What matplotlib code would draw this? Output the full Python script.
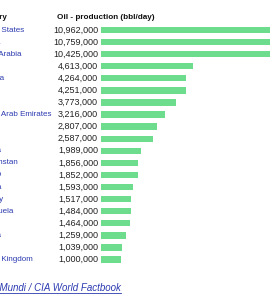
import matplotlib
matplotlib.use("Agg")
import matplotlib.pyplot as plt
from matplotlib import transforms
from matplotlib.lines import Line2D

# table rows (the left part of the names is cropped off in the screenshot)
countries = [
    "United States", "Russia", "Saudi Arabia", "Iraq", "Canada", "Iran",
    "China", "United Arab Emirates", "Kuwait", "Brazil", "Angola",
    "Kazakhstan", "Mexico", "Nigeria", "Norway", "Venezuela", "Qatar",
    "Algeria", "Oman", "United Kingdom",
]
production = [
    10962000, 10759000, 10425000, 4613000, 4264000, 4251000,
    3773000, 3216000, 2807000, 2587000, 1989000,
    1856000, 1852000, 1593000, 1517000, 1484000, 1464000,
    1259000, 1039000, 1000000,
]
header_country = "Country"
header_value = "Oil - production (bbl/day)"
source = "Index Mundi / CIA World Factbook"

W, H = 270, 300
fig = plt.figure(figsize=(W / 100, H / 100), dpi=100)
fig.patch.set_facecolor("white")

font = "Liberation Sans"
fs_num = 6.5
fs_name = 5.8
blue = "#2b3ab0"
green = "#6ddc8c"

# row pitch in pixels, first row centre at y=30px
row0, pitch = 30.0, 12.08
bar_left = 101
ax = fig.add_axes([bar_left / W, 0, 220 / W, 1])
ax.set_xlim(0, 11000000)
ax.set_ylim((H - row0) / pitch, -row0 / pitch)
ax.axis("off")

ax.barh(range(len(production)), production, height=0.52, color=green, linewidth=0)

# x in pixels, y in row units
trans = transforms.blended_transform_factory(
    transforms.Affine2D().scale(1 / W, 1) + fig.transFigure, ax.transData)

ax.text(-23.5, -1, header_country, transform=trans, ha="left", va="center",
        fontsize=fs_name, fontweight="bold", family=font, color="#111111")
ax.text(57, -1, header_value, transform=trans, ha="left", va="center",
        fontsize=5.9, fontweight="bold", family=font, color="#111111")

for i, (name, val) in enumerate(zip(countries, production)):
    ax.text(-23.5, i, name, transform=trans, ha="left", va="center",
            fontsize=fs_name, family=font, color=blue)
    ax.text(98, i, f"{val:,}", transform=trans, ha="right",
            va="center", fontsize=fs_num, family=font, color="#222222")

# source link, italic and underlined
src = fig.text(-27 / W, 1 - 288 / H, source, ha="left", va="center",
               fontsize=7, style="italic", family=font, color=blue)
fig.canvas.draw()
bb = src.get_window_extent().transformed(fig.transFigure.inverted())
fig.add_artist(Line2D([bb.x0, bb.x1], [bb.y0 + 0.2 / H, bb.y0 + 0.2 / H],
                      transform=fig.transFigure, color=blue, linewidth=0.6))

fig.savefig("out.png", dpi=100, facecolor="white")
